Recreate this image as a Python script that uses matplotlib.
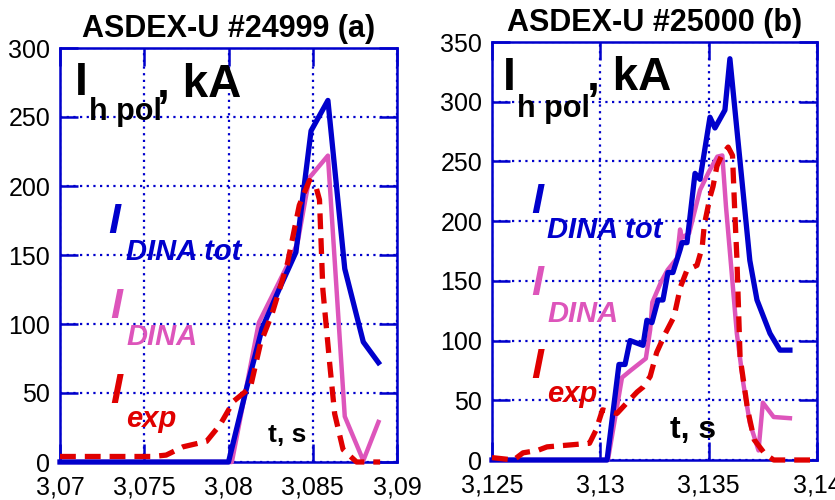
import matplotlib
matplotlib.use("Agg")
import matplotlib.pyplot as plt

plt.rcParams["font.family"] = ["Liberation Sans", "DejaVu Sans"]

W, H = 835, 500

BLUE = "#0000cc"
PINK = "#dd55bb"
RED = "#e00000"

# ---- panel (a): ASDEX-U #24999 ----
a_tot_t = [3.07, 3.08, 3.081, 3.082, 3.083, 3.084, 3.0849, 3.0859, 3.0869, 3.088, 3.0889]
a_tot_i = [0, 0, 50, 97, 125, 152, 240, 262, 140, 87, 72]

a_dina_t = [3.07, 3.0802, 3.0818, 3.0838, 3.0841, 3.0848, 3.0859, 3.0869, 3.088, 3.0889]
a_dina_i = [0, 0, 101, 150, 159, 206, 222, 33, 1, 29]

a_exp_t = [3.07, 3.0755, 3.0763, 3.0773, 3.0787, 3.0795, 3.0803, 3.0813, 3.0819, 3.0826,
           3.0835, 3.0842, 3.0848, 3.0852, 3.0854, 3.0856, 3.086, 3.0863, 3.0868, 3.0876, 3.089]
a_exp_i = [4, 4, 5, 11, 15, 27, 44, 54, 86, 108,
           144, 186, 204, 199, 190, 125, 72, 35, 9, 0, 0]

a_xticks = [3.07, 3.075, 3.08, 3.085, 3.09]
a_xlabels = ["3,07", "3,075", "3,08", "3,085", "3,09"]
a_yticks = [0, 50, 100, 150, 200, 250, 300]

# ---- panel (b): ASDEX-U #25000 ----
b_tot_t = [3.125, 3.13031, 3.13086, 3.13114, 3.13137, 3.13197, 3.13215, 3.13238, 3.13266,
           3.13289, 3.13312, 3.13335, 3.13368, 3.13377, 3.1340, 3.13437, 3.1346, 3.13506,
           3.13529, 3.13575, 3.13598, 3.1369, 3.13723, 3.13783, 3.13829, 3.13875]
b_tot_i = [0, 0, 80, 80, 100, 96, 117, 115, 134,
           134, 157, 157, 176, 182, 182, 240, 235, 287,
           278, 293, 336, 167, 134, 106, 92, 92]

b_dina_t = [3.125, 3.13035, 3.131, 3.1314, 3.1321, 3.1323, 3.1324, 3.1328, 3.1331, 3.13354,
            3.13368, 3.13377, 3.1341, 3.1346, 3.135, 3.1354, 3.13563, 3.1358, 3.136,
            3.1363, 3.1366, 3.1369, 3.1373, 3.1375, 3.138, 3.13875]
b_dina_i = [0, 0, 69, 75, 85, 109, 132, 149, 159, 169,
            193, 186, 190, 226, 241, 254, 255, 212, 170,
            106, 64, 31, 8, 48, 36, 35]

b_exp_t = [3.125, 3.126, 3.12643, 3.1271, 3.12754, 3.1295, 3.1298, 3.1301, 3.13077, 3.13123,
           3.1317, 3.13197, 3.1323, 3.1326, 3.133, 3.1334, 3.1337, 3.134, 3.13446, 3.1347,
           3.1348, 3.13506, 3.1352, 3.13538, 3.1356, 3.1359, 3.1361, 3.1362, 3.1363,
           3.13645, 3.1368, 3.1371, 3.1376, 3.138, 3.14]
b_exp_i = [2, 0, 6, 8, 11, 14, 25, 42, 39, 48,
           57, 61, 70, 90, 106, 120, 145, 159, 163, 178,
           197, 220, 229, 246, 255, 262, 255, 210, 170,
           86, 42, 17, 5, 0, 0]

b_xticks = [3.125, 3.13, 3.135, 3.14]
b_xlabels = ["3,125", "3,13", "3,135", "3,14"]
b_yticks = [0, 50, 100, 150, 200, 250, 300, 350]

fig = plt.figure(figsize=(W / 100, H / 100), dpi=100)


def px_axes(x0, y0, x1, y1):
    return fig.add_axes([x0 / W, 1 - y1 / H, (x1 - x0) / W, (y1 - y0) / H])


def txt(x, y, s, **kw):
    fig.text(x / W, 1 - y / H, s, ha="left", va="baseline", **kw)


def setup(ax, xlim, ylim, xticks, xlabels, yticks, title):
    ax.set_xlim(*xlim)
    ax.set_ylim(*ylim)
    ax.set_xticks(xticks)
    ax.set_xticklabels(xlabels)
    ax.set_yticks(yticks)
    ax.tick_params(direction="in", length=13, width=1.8, color=BLUE,
                   top=True, right=True, labelsize=18, pad=7)
    ax.tick_params(axis="x", pad=10)
    for sp in ax.spines.values():
        sp.set_color(BLUE)
        sp.set_linewidth(1.8)
    ax.grid(True, color=BLUE, linestyle=(0, (1, 2)), linewidth=1.6)
    ax.set_axisbelow(True)
    ax.set_title(title, fontsize=22, fontweight="bold", pad=8)


def curves(ax, tot_t, tot_i, dina_t, dina_i, exp_t, exp_i):
    ax.plot(dina_t, dina_i, color=PINK, lw=3.2, clip_on=False, zorder=3)
    ax.plot(tot_t, tot_i, color=BLUE, lw=3.8, clip_on=False, zorder=4)
    ax.plot(exp_t, exp_i, color=RED, lw=3.8, linestyle=(0, (3.0, 1.7)),
            clip_on=False, zorder=5)


ax1 = px_axes(60, 48, 397, 462)
setup(ax1, (3.07, 3.09), (0, 300), a_xticks, a_xlabels, a_yticks, "ASDEX-U #24999 (a)")
curves(ax1, a_tot_t, a_tot_i, a_dina_t, a_dina_i, a_exp_t, a_exp_i)

ax2 = px_axes(492, 42, 817, 460)
setup(ax2, (3.125, 3.14), (0, 350), b_xticks, b_xlabels, b_yticks, "ASDEX-U #25000 (b)")
curves(ax2, b_tot_t, b_tot_i, b_dina_t, b_dina_i, b_exp_t, b_exp_i)

# panel (a) annotations
txt(75, 95, "I", fontsize=33, fontweight="bold")
txt(89, 120, "h pol", fontsize=22, fontweight="bold")
txt(157, 97, ", kA", fontsize=33, fontweight="bold")
txt(108, 233, "I", fontsize=31, fontweight="bold", style="italic", color=BLUE)
txt(126, 260, "DINA tot", fontsize=21, fontweight="bold", style="italic", color=BLUE)
txt(110, 318, "I", fontsize=31, fontweight="bold", style="italic", color=PINK)
txt(126, 345, "DINA", fontsize=21, fontweight="bold", style="italic", color=PINK)
txt(110, 403, "I", fontsize=31, fontweight="bold", style="italic", color=RED)
txt(126, 427, "exp", fontsize=21, fontweight="bold", style="italic", color=RED)
txt(268, 442, "t, s", fontsize=19, fontweight="bold")

# panel (b) annotations
txt(503, 90, "I", fontsize=33, fontweight="bold")
txt(517, 117, "h pol", fontsize=22, fontweight="bold")
txt(587, 90, ", kA", fontsize=33, fontweight="bold")
txt(531, 213, "I", fontsize=31, fontweight="bold", style="italic", color=BLUE)
txt(547, 238, "DINA tot", fontsize=21, fontweight="bold", style="italic", color=BLUE)
txt(531, 295, "I", fontsize=31, fontweight="bold", style="italic", color=PINK)
txt(547, 322, "DINA", fontsize=21, fontweight="bold", style="italic", color=PINK)
txt(531, 378, "I", fontsize=31, fontweight="bold", style="italic", color=RED)
txt(547, 402, "exp", fontsize=21, fontweight="bold", style="italic", color=RED)
txt(670, 438, "t, s", fontsize=23, fontweight="bold")

fig.savefig("out.png", dpi=100)
